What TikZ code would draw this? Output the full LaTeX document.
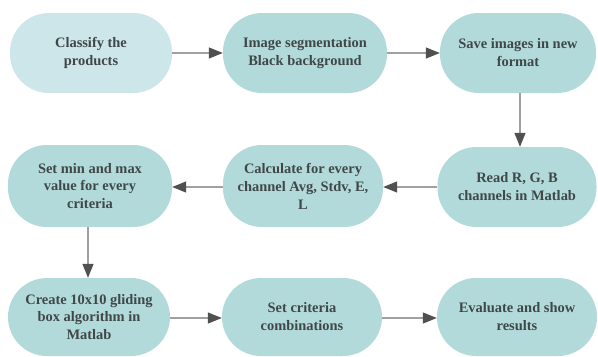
\documentclass[tikz,border=0pt]{standalone}
\usepackage{fontspec}
\setmainfont{Liberation Serif}
\usetikzlibrary{arrows.meta}
\definecolor{boxfill}{HTML}{B3DADB}
\definecolor{boxlight}{HTML}{CDE6EA}
\definecolor{txt}{HTML}{3F4747}
\definecolor{linec}{HTML}{A0A0A0}
\definecolor{tipc}{HTML}{505050}
\tikzset{
  stadium/.style={rectangle, rounded corners=39bp, fill=boxfill, draw=none,
    minimum width=160bp, minimum height=80bp, align=center, text=txt,
    font=\fontsize{14.5}{18}\selectfont\bfseries, inner sep=1bp},
  flow/.style={draw=linec, line width=1.2bp,
    -{Triangle[length=14bp,width=11bp,fill=tipc,color=tipc]}}
}
\begin{document}
\begin{tikzpicture}[x=1bp,y=-1bp]
\useasboundingbox (0,0) rectangle (598,356);
\fill[white] (0,0) rectangle (598,356);
\node[stadium, fill=boxlight, minimum width=162bp] (n1) at (91,53) {Classify the\\products};
\node[stadium, minimum width=164bp] (n2) at (305,53) {Image segmentation\\Black background};
\node[stadium, minimum width=156bp] (n3) at (518,53) {Save images in new\\format};
\node[stadium, minimum width=164bp, minimum height=82bp] (n4) at (90,186) {Set min and max\\value for every\\criteria};
\node[stadium, minimum width=160bp, minimum height=82bp] (n5) at (303,186) {Calculate for every\\channel Avg, Stdv, E,\\L};
\node[stadium, minimum width=159bp, minimum height=80bp] (n6) at (517,187) {Read R, G, B\\channels in Matlab};
\node[stadium, minimum width=162bp, minimum height=78bp] (n7) at (89,317) {Create 10x10 gliding\\box algorithm in\\Matlab};
\node[stadium, minimum width=160bp, minimum height=78bp] (n8) at (302,317) {Set criteria\\combinations};
\node[stadium, minimum width=160bp, minimum height=78bp] (n9) at (517,317) {Evaluate and show\\results};
\draw[flow] (n1) -- (n2);
\draw[flow] (n2) -- (n3);
\draw[flow] (n3.south -| 520,0) -- (n6.north -| 520,0);
\draw[flow] (n6.west) -- (n5.east |- n6.west);
\draw[flow] (n5.west |- n6.west) -- (n4.east |- n6.west);
\draw[flow] (n4.south -| 88,0) -- (n7.north -| 88,0);
\draw[flow] (n7.east |- 0,318) -- (n8.west |- 0,318);
\draw[flow] (n8.east |- 0,318) -- (n9.west |- 0,318);
\end{tikzpicture}
\end{document}
